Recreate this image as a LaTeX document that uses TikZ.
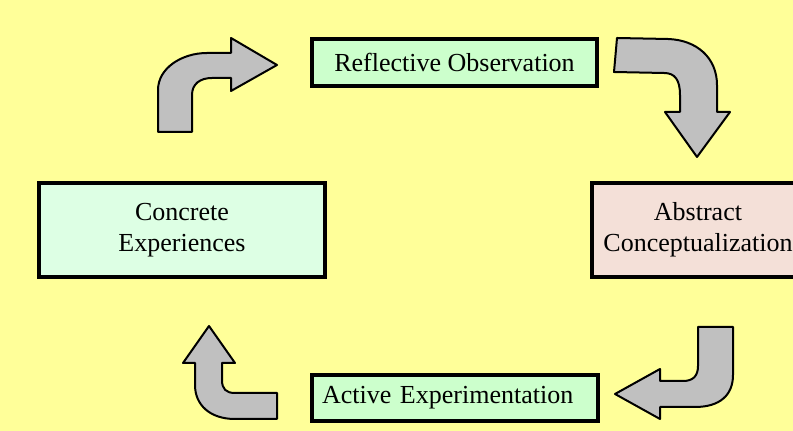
\documentclass[tikz,border=0pt]{standalone}
\usepackage{fontspec}
\setmainfont{Liberation Serif}
\usepackage{xcolor}
\usepackage{tikz}
\usetikzlibrary{
  positioning,
  calc
}
\definecolor{bgyellow}{RGB}{255,255,153}
\definecolor{boxgreen}{RGB}{204,255,204}
\definecolor{palegreen}{RGB}{221,255,228}
\definecolor{palepink}{RGB}{244,224,216}
\definecolor{arrowgray}{RGB}{192,192,192}
\tikzset{
  stagebox/.style={draw, line width=1.6pt, inner sep=5pt, align=center},
  bentarrow/.style={draw, fill=arrowgray, line width=1pt, line join=round}
}

\begin{document}
\begin{tikzpicture}[x=0.5pt, y=-0.5pt, font=\fontsize{13}{15.5}\selectfont]
  \fill[bgyellow] (0,0) rectangle (793,431);
  \useasboundingbox (0,0) rectangle (793,431);
  \clip (0,0) rectangle (793,431);
  \node[stagebox, fill=boxgreen, minimum width=142.5pt, minimum height=23.5pt] (obs) at (454.5,62.5) {Reflective Observation};
  \node[stagebox, fill=palepink, minimum width=106pt, minimum height=47pt] (abs) at (698,230) {Abstract\\Conceptualization};
  \node[stagebox, fill=boxgreen, minimum width=143pt, minimum height=23pt, text width=133pt, align=left] (act) at (455,398) {Active Experimentation};
  \node[stagebox, fill=palegreen, minimum width=143pt, minimum height=47pt] (conc) at (182,230) {Concrete\\Experiences};
  % bent block arrows
  \draw[bentarrow] (158,132) -- (158,90) .. controls (158,68) and (182,53) .. (207,53) -- (231,53) -- (231,38) -- (277,65) -- (231,91) -- (231,78) -- (212,78) .. controls (200,78) and (192,84) .. (192,95) -- (192,132) -- cycle;
  \draw[bentarrow] (614,72) -- (617,38) -- (668,39) .. controls (697,40) and (717,58) .. (717,85) -- (717,112) -- (730,112) -- (697,157) -- (665,112) -- (680,112) -- (680,95) .. controls (680,80) and (675,73) .. (664,73) -- cycle;
  \draw[bentarrow] (698,327) -- (733,327) -- (733,375) .. controls (733,395) and (720,407) .. (695,407) -- (660,407) -- (660,419) -- (615,394) -- (660,369) -- (660,381) -- (683,381) .. controls (693,381) and (698,376) .. (698,366) -- cycle;
  \draw[bentarrow] (209,326) -- (235,363) -- (222,363) -- (222,380) .. controls (222,389) and (226,393) .. (235,393) -- (277,393) -- (277,419) -- (235,419) .. controls (210,419) and (195,405) .. (195,385) -- (195,363) -- (183,363) -- cycle;
\end{tikzpicture}
\end{document}
